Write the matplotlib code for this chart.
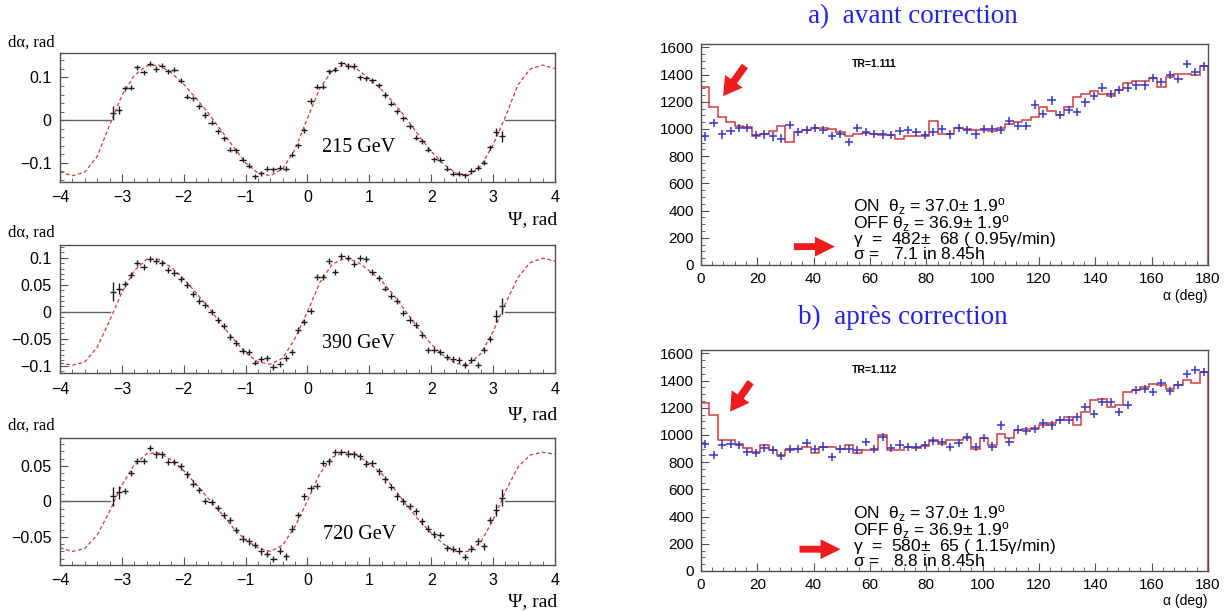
import numpy as np
import matplotlib
matplotlib.use("Agg")
import matplotlib.pyplot as plt
from matplotlib.ticker import MultipleLocator, FuncFormatter

plt.rcParams['font.family'] = ['Liberation Sans', 'DejaVu Sans']
plt.rcParams['mathtext.fontset'] = 'custom'
plt.rcParams['mathtext.rm'] = 'Liberation Sans'
plt.rcParams['mathtext.it'] = 'Liberation Sans'
plt.rcParams['mathtext.bf'] = 'Liberation Sans:bold'

# ---------- left column: d-alpha vs psi (64 bins of 0.1 rad between -3.2 and 3.2)
psi = np.arange(64) * 0.1 - 3.15
energies = ["215 GeV", "390 GeV", "720 GeV"]

dalpha_215 = [0.017, 0.024, 0.075, 0.076, 0.124, 0.112, 0.132, 0.120, 0.128, 0.115,
              0.118, 0.092, 0.055, 0.051, 0.033, 0.012, -0.006, -0.026, -0.042, -0.069,
              -0.071, -0.093, -0.107, -0.131, -0.124, -0.114, -0.115, -0.111, -0.114, -0.081,
              -0.059, -0.024, 0.045, 0.078, 0.078, 0.115, 0.118, 0.133, 0.127, 0.127,
              0.100, 0.098, 0.093, 0.082, 0.059, 0.039, 0.021, 0.004, -0.014, -0.041,
              -0.049, -0.069, -0.092, -0.093, -0.114, -0.125, -0.125, -0.129, -0.119, -0.111,
              -0.100, -0.063, -0.027, -0.038]
dalpha_390 = [0.037, 0.043, 0.052, 0.068, 0.091, 0.082, 0.097, 0.094, 0.091, 0.077,
              0.071, 0.060, 0.049, 0.033, 0.020, 0.012, 0.000, -0.015, -0.027, -0.046,
              -0.057, -0.073, -0.075, -0.094, -0.088, -0.086, -0.102, -0.097, -0.086, -0.074,
              -0.034, -0.019, 0.001, 0.064, 0.064, 0.094, 0.074, 0.103, 0.099, 0.088,
              0.099, 0.097, 0.074, 0.062, 0.043, 0.029, 0.020, -0.002, -0.015, -0.025,
              -0.043, -0.070, -0.071, -0.074, -0.083, -0.088, -0.090, -0.099, -0.090, -0.098,
              -0.071, -0.051, -0.008, 0.011]
dalpha_720 = [0.007, 0.013, 0.015, 0.040, 0.057, 0.057, 0.075, 0.066, 0.066, 0.055,
              0.055, 0.049, 0.038, 0.025, 0.016, 0.001, -0.001, -0.009, -0.019, -0.026,
              -0.040, -0.052, -0.056, -0.061, -0.070, -0.074, -0.081, -0.069, -0.077, -0.038,
              -0.019, 0.007, 0.019, 0.022, 0.054, 0.056, 0.069, 0.069, 0.067, 0.066,
              0.063, 0.053, 0.054, 0.042, 0.031, 0.020, 0.007, 0.000, -0.006, -0.014,
              -0.028, -0.038, -0.046, -0.047, -0.065, -0.067, -0.069, -0.078, -0.066, -0.056,
              -0.063, -0.026, -0.012, 0.005]

err_215 = np.full(64, 0.006)
err_215[[0, 1, 62, 63]] = [0.016, 0.009, 0.009, 0.013]
err_390 = np.full(64, 0.0055)
err_390[[0, 1, 62, 63]] = [0.018, 0.011, 0.011, 0.015]
err_720 = np.full(64, 0.0045)
err_720[[0, 1, 62, 63]] = [0.013, 0.009, 0.009, 0.012]

# fitted curves, read every 0.2 rad from -4 to 4
fit_psi = np.linspace(-4, 4, 41)
fit_215 = [-0.121, -0.130, -0.122, -0.085, -0.012, 0.058, 0.105, 0.127, 0.129, 0.111,
           0.084, 0.051, 0.016, -0.023, -0.062, -0.100, -0.124, -0.130, -0.114, -0.068,
           0.005, 0.075, 0.116, 0.131, 0.120, 0.097, 0.071, 0.040, 0.004, -0.036,
           -0.073, -0.103, -0.124, -0.129, -0.108, -0.058, 0.008, 0.082, 0.120, 0.129, 0.121]
fit_390 = [-0.095, -0.099, -0.093, -0.066, -0.017, 0.036, 0.076, 0.097, 0.097, 0.082,
           0.061, 0.035, 0.008, -0.022, -0.050, -0.076, -0.093, -0.097, -0.086, -0.049,
           0.000, 0.054, 0.088, 0.099, 0.093, 0.076, 0.057, 0.030, -0.001, -0.032,
           -0.060, -0.081, -0.096, -0.098, -0.078, -0.037, 0.015, 0.063, 0.091, 0.099, 0.094]
fit_720 = [-0.065, -0.070, -0.066, -0.047, -0.014, 0.023, 0.051, 0.067, 0.068, 0.058,
           0.043, 0.024, 0.004, -0.016, -0.037, -0.054, -0.065, -0.070, -0.061, -0.035,
           0.001, 0.039, 0.062, 0.069, 0.065, 0.053, 0.039, 0.018, -0.005, -0.026,
           -0.044, -0.060, -0.070, -0.070, -0.057, -0.026, 0.014, 0.048, 0.065, 0.069, 0.066]

# ---------- right column: alpha distributions, 60 bins of 3 deg
alpha_edges = np.arange(0, 181, 3)
alpha_mid = alpha_edges[:-1] + 1.5

on_avant = [945, 1045, 960, 985, 1010, 1010, 955, 960, 945, 930,
            1030, 975, 990, 1005, 990, 950, 965, 905, 1005, 975,
            965, 960, 955, 985, 990, 975, 955, 980, 1000, 960,
            1010, 990, 960, 1000, 1000, 995, 1060, 1025, 1025, 1180,
            1110, 1210, 1100, 1140, 1125, 1195, 1240, 1305, 1255, 1285,
            1305, 1320, 1320, 1375, 1345, 1395, 1370, 1475, 1420, 1460]
off_avant = [1310, 1165, 1085, 1050, 1025, 1015, 950, 960, 985, 1020,
             905, 980, 995, 1005, 1005, 1000, 975, 945, 965, 970,
             965, 955, 955, 930, 950, 950, 950, 1060, 960, 965,
             1010, 1000, 995, 990, 985, 1010, 1040, 1050, 1065, 1090,
             1160, 1130, 1100, 1160, 1235, 1260, 1280, 1260, 1245, 1290,
             1335, 1350, 1350, 1375, 1310, 1380, 1405, 1405, 1395, 1460]
on_apres = [935, 850, 930, 935, 925, 875, 865, 905, 890, 845,
            900, 895, 940, 895, 915, 840, 895, 895, 890, 950,
            895, 985, 905, 930, 910, 910, 925, 955, 950, 910,
            940, 985, 910, 975, 915, 1070, 950, 1040, 1030, 1045,
            1085, 1070, 1110, 1110, 1130, 1205, 1155, 1240, 1240, 1170,
            1220, 1330, 1340, 1315, 1380, 1325, 1365, 1450, 1475, 1465]
off_apres = [1235, 1145, 965, 965, 935, 905, 875, 930, 890, 850,
             890, 895, 910, 865, 910, 915, 900, 925, 865, 890,
             890, 1000, 890, 890, 915, 905, 920, 960, 935, 965,
             965, 980, 900, 975, 925, 1005, 980, 1035, 1045, 1055,
             1070, 1090, 1110, 1130, 1070, 1170, 1255, 1265, 1205, 1220,
             1315, 1330, 1350, 1375, 1365, 1335, 1370, 1405, 1380, 1465]
on_err = 30

titles = ["a)  avant correction", "b)  après correction"]
tr_labels = ["TR=1.111", "TR=1.112"]
stats = [
    [r"ON  $\theta_z$ = 37.0$\pm$ 1.9$^o$", r"OFF $\theta_z$ = 36.9$\pm$ 1.9$^o$",
     r"$\gamma$  =  482$\pm$  68 ( 0.95$\gamma$/min)", r"$\sigma$ =   7.1 in 8.45h"],
    [r"ON  $\theta_z$ = 37.0$\pm$ 1.9$^o$", r"OFF $\theta_z$ = 36.9$\pm$ 1.9$^o$",
     r"$\gamma$  =  580$\pm$  65 ( 1.15$\gamma$/min)", r"$\sigma$ =   8.8 in 8.45h"],
]

# ---------- figure
fig = plt.figure(figsize=(12.25, 6.11), dpi=100)
serif = ['Liberation Serif', 'DejaVu Serif']
frame_c = '#505050'
red = '#d23c3c'


def fmt(v, pos):
    s = f"{round(v, 4) + 0:g}"
    return s.replace('-', '\u2212')


left_rects = [(0.049, 0.702, 0.404, 0.211),
              (0.049, 0.389, 0.404, 0.2095),
              (0.049, 0.0753, 0.404, 0.208)]
left_ylims = [(-0.145, 0.157), (-0.114, 0.123), (-0.089, 0.089)]
left_major = [0.1, 0.05, 0.05]
left_minor = [0.02, 0.01, 0.01]
energy_pos = [(0.604, 0.265), (0.603, 0.234), (0.606, 0.237)]
dalpha_y = [0.930, 0.619, 0.304]
psi_y = [0.640, 0.321, 0.016]

for k, (d, e, f) in enumerate(zip([dalpha_215, dalpha_390, dalpha_720],
                                  [err_215, err_390, err_720],
                                  [fit_215, fit_390, fit_720])):
    ax = fig.add_axes(left_rects[k])
    ax.plot([-4, psi[0] - 0.05], [0, 0], color='#606060', lw=1)
    ax.plot([psi[-1] + 0.05, 4], [0, 0], color='#606060', lw=1)
    ax.plot(fit_psi, f, color=red, lw=0.9, ls=(0, (3, 2)))
    ax.errorbar(psi, d, yerr=e, xerr=0.05, fmt='none', ecolor='#1a1a1a',
                elinewidth=1.0, capsize=0)
    ax.set_xlim(-4, 4)
    ax.set_ylim(*left_ylims[k])
    ax.xaxis.set_major_locator(MultipleLocator(1))
    ax.xaxis.set_minor_locator(MultipleLocator(0.2))
    ax.yaxis.set_major_locator(MultipleLocator(left_major[k]))
    ax.yaxis.set_minor_locator(MultipleLocator(left_minor[k]))
    ax.xaxis.set_major_formatter(FuncFormatter(fmt))
    ax.yaxis.set_major_formatter(FuncFormatter(fmt))
    ax.tick_params(which='both', direction='in', top=False, right=False,
                   color=frame_c, labelsize=11.5)
    ax.tick_params(which='major', length=6, pad=6)
    ax.tick_params(which='minor', length=3)
    for sp in ax.spines.values():
        sp.set_color(frame_c)
        sp.set_linewidth(1)
    ax.text(*energy_pos[k], energies[k], transform=ax.transAxes, ha='center',
            va='center', fontsize=14.5, family=serif)
    fig.text(0.0065, dalpha_y[k], "dα, rad", ha='left', va='center',
             fontsize=12, family=serif)
    fig.text(0.455, psi_y[k], "Ψ, rad", ha='right', va='center',
             fontsize=14, family=serif)

right_rects = [(0.5722, 0.5663, 0.4139, 0.3617), (0.5722, 0.0655, 0.4139, 0.3617)]
title_pos = [(0.745, 0.972), (0.737, 0.481)]
xlabel_y = [0.515, 0.017]
top_arrows = [((16.2, 1480), (7.3, 1225)), ((18.2, 1405), (9.8, 1155))]
bottom_arrows = [((32, 135), (48.5, 135)), ((34, 160), (50.5, 160))]
stat_top = [508, 500]

for k, (on, off) in enumerate([(on_avant, off_avant), (on_apres, off_apres)]):
    ax = fig.add_axes(right_rects[k])
    ax.stairs(off, alpha_edges, baseline=None, color=red, lw=1.1, zorder=3)
    ax.vlines(alpha_edges[-1], 0, off[-1], color=red, lw=1.1, zorder=3)
    ax.errorbar(alpha_mid, on, yerr=on_err, xerr=1.5, fmt='none',
                ecolor='#3434c8', elinewidth=1.1, capsize=0, zorder=4)
    ax.set_xlim(0, 180)
    ax.set_ylim(0, 1625)
    ax.xaxis.set_major_locator(MultipleLocator(20))
    ax.xaxis.set_minor_locator(MultipleLocator(4))
    ax.yaxis.set_major_locator(MultipleLocator(200))
    ax.yaxis.set_minor_locator(MultipleLocator(50))
    ax.tick_params(which='both', direction='in', top=False, right=False,
                   color=frame_c, labelsize=11)
    ax.tick_params(which='major', length=6, pad=5)
    ax.tick_params(which='minor', length=3)
    for sp in ax.spines.values():
        sp.set_color(frame_c)
        sp.set_linewidth(1)
    ax.text(53.5, 1480, tr_labels[k], fontsize=7.5, fontweight='bold', va='center')
    ax.text(54, stat_top[k], "\n".join(stats[k]), fontsize=12.5, va='top',
            ha='left', linespacing=0.76)
    (x0, y0), (x1, y1) = top_arrows[k]
    ax.annotate('', xy=(x1, y1), xytext=(x0, y0),
                arrowprops=dict(arrowstyle='simple,head_width=1.3,head_length=1.1,tail_width=0.45',
                                color='#ee1c1c', lw=0, mutation_scale=12))
    (x0, y0), (x1, y1) = bottom_arrows[k]
    ax.annotate('', xy=(x1, y1), xytext=(x0, y0),
                arrowprops=dict(arrowstyle='simple,head_width=1.3,head_length=1.3,tail_width=0.45',
                                color='#ee1c1c', lw=0, mutation_scale=11))
    fig.text(*title_pos[k], titles[k], ha='center', va='center', fontsize=19.5,
             family=serif, color='#2424e6')
    fig.text(0.986, xlabel_y[k], "α (deg)", ha='right', va='center', fontsize=10)

fig.savefig("out.png", dpi=100)
